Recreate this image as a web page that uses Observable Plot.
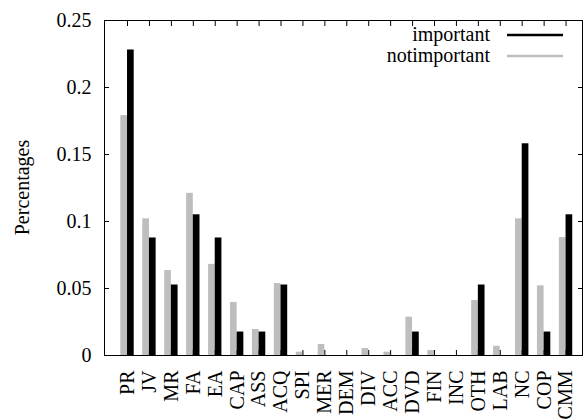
<!DOCTYPE html>
<html><head><meta charset="utf-8">
<script src="https://cdn.jsdelivr.net/npm/d3@7"></script>
<script src="https://cdn.jsdelivr.net/npm/@observablehq/plot@0.6"></script>
<style>
body{margin:0;background:#fff}
#chart svg, #chart svg text, #chart svg g{font-family:"Liberation Serif", "DejaVu Serif", serif !important;}
</style>
</head><body><div id="chart"></div>
<script>
const categories = ["PR","JV","MR","FA","EA","CAP","ASS","ACQ","SPI","MER","DEM","DIV","ACC","DVD","FIN","INC","OTH","LAB","NC","COP","CMM"];
const important = [0.228,0.0877,0.0526,0.105,0.0877,0.0175,0.0175,0.0526,0,0,0,0,0,0.0175,0,0,0.0526,0,0.158,0.0175,0.105];
const notimportant = [0.179,0.102,0.0634,0.121,0.068,0.0396,0.0194,0.0537,0.0025,0.0082,0,0.0052,0.0025,0.0286,0.0037,0,0.041,0.0069,0.102,0.052,0.088];
const yTicks = [0,0.05,0.1,0.15,0.2,0.25];
const yTickLabels = ["0","0.05","0.1","0.15","0.2","0.25"];
const seriesNames = ["important","notimportant"];
const seriesColors = ["#000000","#bebebe"];
const yLabel = "Percentages";

const FONT = "Liberation Serif";
const barW = 0.305;
const rows = categories.flatMap((c, i) => [
  {cat: c, i, series: "notimportant", value: notimportant[i], slot: -1},
  {cat: c, i, series: "important", value: important[i], slot: 0}
]);
const xIdx = categories.map((c, i) => i);

const legend = (index, scales, values, dimensions) => {
  const g = d3.create("svg:g").attr("font-family", FONT).attr("font-size", 20);
  const right = dimensions.width - dimensions.marginRight;
  seriesNames.forEach((name, k) => {
    const yl = dimensions.marginTop + 15 + k * 21;
    g.append("text").attr("x", right - 92).attr("y", yl + 6).attr("text-anchor", "end").attr("fill", "#000").text(name);
    g.append("line").attr("x1", right - 75).attr("x2", right - 19).attr("y1", yl).attr("y2", yl)
      .attr("stroke", seriesColors[k]).attr("stroke-width", 2.7);
  });
  return g.node();
};

const yTitle = (index, scales, values, dimensions) => {
  const cy = (dimensions.marginTop + dimensions.height - dimensions.marginBottom) / 2;
  const cx = dimensions.marginLeft - 81;
  const t = d3.create("svg:text")
    .attr("transform", `translate(${cx},${cy}) rotate(-90)`)
    .attr("text-anchor", "middle").attr("dy", "0.32em")
    .attr("font-family", FONT).attr("font-size", 20).attr("fill", "#000")
    .text(yLabel);
  return t.node();
};

const chart = Plot.plot({
  width: 583, height: 419,
  marginLeft: 104, marginRight: 1, marginTop: 20, marginBottom: 64,
  style: {fontFamily: FONT, fontSize: "20px", background: "#fff", color: "#000"},
  x: {domain: [-1.05, 20.75], axis: null},
  y: {domain: [0, 0.25], axis: null},
  color: {domain: seriesNames, range: seriesColors},
  marks: [
    Plot.rectY(rows, {x1: d => d.i + d.slot * barW, x2: d => d.i + (d.slot + 1) * barW, y: "value", fill: "series"}),
    Plot.axisY({anchor: "left", ticks: yTicks, tickFormat: d => yTickLabels[yTicks.indexOf(d)], tickSize: 0, tickPadding: 13, label: null, fontSize: 20}),
    Plot.axisY({anchor: "left", ticks: yTicks, tickSize: -5, text: null, label: null}),
    Plot.axisY({anchor: "right", ticks: yTicks, tickSize: -5, text: null, label: null}),
    Plot.axisX({anchor: "bottom", ticks: xIdx, tickFormat: i => categories[i], tickRotate: -90, textAnchor: "end", lineAnchor: "middle", tickSize: 0, tickPadding: 15, label: null, fontSize: 20}),
    Plot.axisX({anchor: "bottom", ticks: xIdx, tickSize: -5, text: null, label: null}),
    Plot.axisX({anchor: "top", ticks: xIdx, tickSize: -5, text: null, label: null}),
    yTitle,
    Plot.frame({stroke: "#000"}),
    legend
  ]
});
document.getElementById("chart").appendChild(chart);
</script>
</body></html>
